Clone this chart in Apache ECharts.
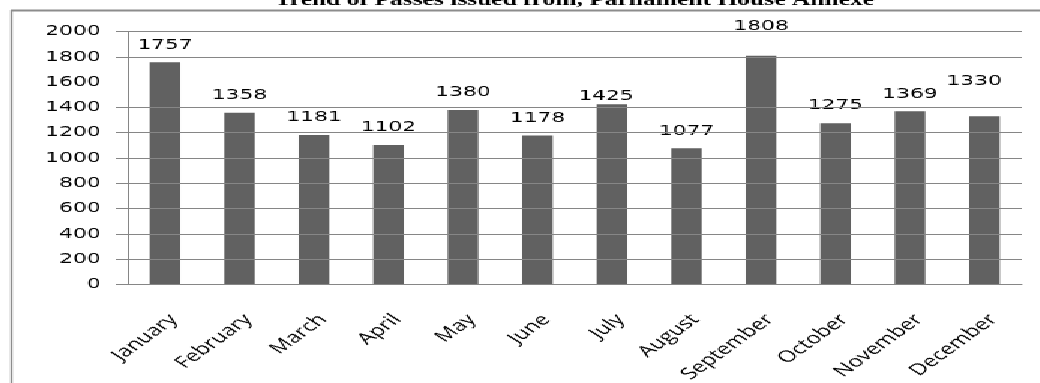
<!DOCTYPE html>
<html>
<head>
<meta charset="utf-8">
<title>Trend of Passes issued from, Parliament House Annexe</title>
<script src="https://cdn.jsdelivr.net/npm/echarts@6/dist/echarts.min.js"></script>
<style>
  html, body { margin: 0; padding: 0; background: #fff; overflow: hidden; }
  /* the chart is laid out narrow and widened 1.5x, like the pasted report graphic */
  #chart { width: 693px; height: 383px; transform: scaleX(1.50072); transform-origin: 0 0; }
  #chart canvas { image-rendering: pixelated; }
</style>
</head>
<body>
<div id="chart"></div>
<script>
const months = ['January', 'February', 'March', 'April', 'May', 'June',
                'July', 'August', 'September', 'October', 'November', 'December'];
const passes = [1757, 1358, 1181, 1102, 1380, 1178, 1425, 1077, 1808, 1275, 1369, 1330];
const yLabelValues = [0, 200, 400, 600, 800, 1000, 1200, 1400, 1600, 1800, 2000];
const yGridValues = [0, 200, 400, 600, 800, 1000, 1200, 1400, 1800, 2000];

// hand-placed data labels that sit away from the default spot
const labelNudge = {
  July: [-4, 9],
  September: [0, -12],
  December: [-7, -18]
};

const gray = '#868686';
const chart = echarts.init(document.getElementById('chart'));

chart.setOption({
  animation: false,
  title: {
    text: 'Trend of Passes issued from, Parliament House Annexe',
    left: 183,
    top: -8,
    padding: 0,
    textStyle: { fontFamily: 'Liberation Serif', fontWeight: 'bold', fontSize: 17, color: '#000' }
  },
  grid: { left: 85, right: 12, top: 31.5, bottom: 98.5, outerBoundsMode: 'none' },
  xAxis: {
    type: 'category',
    data: months,
    axisLine: { lineStyle: { color: gray } },
    axisTick: { length: 6, lineStyle: { color: gray } },
    axisLabel: {
      interval: 0, rotate: 47, margin: 27, verticalAlign: 'top',
      fontFamily: 'Open Sans', fontSize: 16, color: '#000'
    }
  },
  yAxis: {
    type: 'value',
    min: 0, max: 2000, interval: 200,
    axisLine: { show: true, lineStyle: { color: gray } },
    axisTick: { show: true, length: 8, customValues: yGridValues, lineStyle: { color: gray } },
    axisLabel: {
      customValues: yLabelValues, margin: 18,
      formatter: v => String(v),
      fontFamily: 'DejaVu Sans', fontSize: 14.5, color: '#000'
    },
    splitLine: { show: false }
  },
  series: [
    {
      // horizontal gridlines, drawn behind the bars
      type: 'line',
      z: 1,
      data: [],
      silent: true,
      markLine: {
        silent: true,
        symbol: 'none',
        label: { show: false },
        lineStyle: { color: gray, type: 'solid', width: 1 },
        data: yGridValues.map(v => ({ yAxis: v }))
      }
    },
    {
      type: 'bar',
      z: 2,
      barWidth: '41%',
      itemStyle: { color: '#616161' },
      label: {
        show: true, position: 'top', distance: 10,
        fontFamily: 'DejaVu Sans', fontSize: 14.5, color: '#000'
      },
      data: passes.map((v, i) => {
        const nudge = labelNudge[months[i]];
        return nudge ? { value: v, label: { offset: nudge } } : v;
      })
    }
  ],
  graphic: [
    { type: 'line', shape: { x1: 7.5, y1: 10, x2: 7.5, y2: 383 }, style: { stroke: '#8c8c8c', lineWidth: 1.4 } },
    { type: 'line', shape: { x1: 7, y1: 10.5, x2: 693, y2: 10.5 }, style: { stroke: '#8c8c8c', lineWidth: 2 } }
  ]
});
</script>
</body>
</html>
